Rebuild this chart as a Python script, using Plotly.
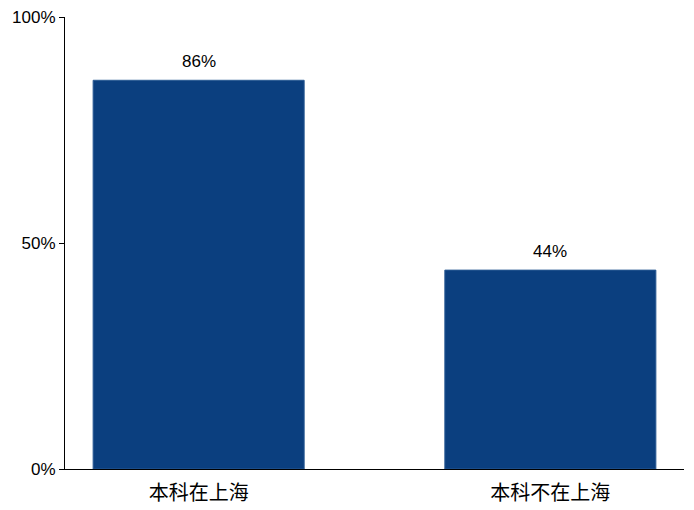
import plotly.graph_objects as go

categories = ["本科在上海", "本科不在上海"]
values = [0.86, 0.44]
value_labels = ["86%", "44%"]
y_ticks = [0, 0.5, 1.0]
y_tick_labels = ["0%", "50%", "100%"]

bar_color = "#0b3f7f"
x_pos = list(range(len(categories)))

fig = go.Figure()
fig.add_trace(go.Bar(
    x=x_pos, y=values, width=0.6,
    marker=dict(color=bar_color, line=dict(color="#2a5a94", width=1)),
    hoverinfo="skip",
))

for xi, v, lab in zip(x_pos, values, value_labels):
    fig.add_annotation(x=xi, y=v, text=lab, showarrow=False,
                       yanchor="bottom", yshift=7,
                       font=dict(family="Liberation Sans, Arial", size=17, color="black"))

# page body has an 8px default margin, so the figure is sized to fit the window
fig.update_layout(
    width=686, height=502,
    margin=dict(l=57, r=10, t=9, b=41),
    paper_bgcolor="white", plot_bgcolor="white",
    showlegend=False,
    font=dict(family="Liberation Sans, Arial", size=17, color="black"),
)
fig.update_xaxes(
    range=[-0.38, 1.38], tickvals=x_pos, ticktext=categories,
    showline=True, linecolor="black", linewidth=1, ticks="",
    showgrid=False, zeroline=False, automargin=False, ticklabelstandoff=6,
    tickfont=dict(family="Noto Sans CJK SC", size=20, color="black"),
)
fig.update_yaxes(
    range=[0, 1.0], tickvals=y_ticks, ticktext=y_tick_labels,
    showline=True, linecolor="black", linewidth=1, ticks="outside", ticklen=5,
    tickcolor="black", showgrid=False, zeroline=False, automargin=False,
    ticklabeloverflow="allow",
    tickfont=dict(family="Liberation Sans, Arial", size=17, color="black"),
)

fig.write_html("out.html")
